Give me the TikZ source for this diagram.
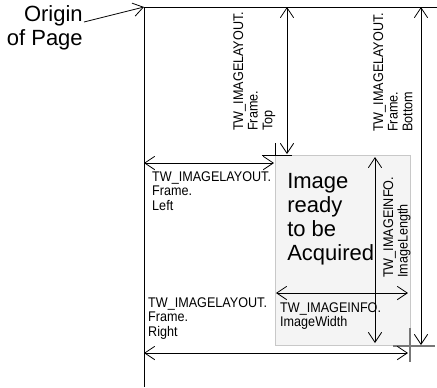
\documentclass[tikz,border=0pt]{standalone}
\usepackage{fontspec}
\setmainfont{Liberation Sans}
\usepackage{xcolor}
\usetikzlibrary{arrows.meta}

\definecolor{imgfill}{HTML}{F4F4F4}
\definecolor{imgedge}{HTML}{C8C8C8}
\definecolor{crossgray}{HTML}{777777}

\begin{document}
\begin{tikzpicture}[x=0.75pt, y=-0.75pt, >={Straight Barb[length=7.5pt,width=10pt]},
  dim/.style={<->, line width=0.6pt},
  lbl/.style={font=\fontsize{10.5}{11}\selectfont, align=left, inner sep=0pt, xscale=0.9},
  big/.style={font=\fontsize{16.5}{18}\selectfont, align=left, inner sep=0pt},
  rlbl/.style={font=\fontsize{10.5}{11}\selectfont, align=left, inner sep=0pt,
               rotate=90, xscale=0.9, anchor=north west}]
  \useasboundingbox (0,0) rectangle (437,387);
  % page edges and origin
  \coordinate (origin) at (144,7);
  \coordinate (pageR) at (437,7);
  \coordinate (pageB) at (144,387);
  \draw[line width=0.6pt] (pageR) -- (origin) -- (pageB);
  \node[big, align=right, anchor=north east] (orglbl) at (83,5) {Origin\\of Page};
  \coordinate (orgtail) at (84,22);
  \draw[->, line width=0.6pt] (orgtail) -- (origin);
  % image box
  \node[draw=imgedge, fill=imgfill, anchor=north west, inner sep=0pt,
        minimum width=101.25pt, minimum height=142.5pt] (img) at (275,155) {};
  \node[big, anchor=north west] (imgtxt) at (287,173) {Image\\ready\\to be\\Acquired};
  % frame corners
  \coordinate (ftl) at (275,155);
  \coordinate (fbr) at (410,346);
  \draw[line width=0.6pt] (262,155) -- (292,155);
  \draw[line width=0.6pt] (275,143) -- (ftl);
  \draw[crossgray, line width=1.2pt] (393,346) -- (435,346);
  \draw[crossgray, line width=1.2pt] (410,328) -- (410,362);
  % Frame.Top
  \coordinate (topA) at (287,7);
  \coordinate (topB) at (287,154);
  \draw[dim] (topA) -- (topB);
  \node[rlbl] (toplbl) at (233,131) {TW\_IMAGELAYOUT.\\Frame.\\Top};
  % Frame.Bottom
  \coordinate (botA) at (421,7);
  \coordinate (botB) at (421,345);
  \draw[dim] (botA) -- (botB);
  \node[rlbl] (botlbl) at (373,132) {TW\_IMAGELAYOUT.\\Frame.\\Bottom};
  % Frame.Left
  \coordinate (leftA) at (144,163);
  \coordinate (leftB) at (274,163);
  \draw[dim] (leftA) -- (leftB);
  \node[lbl, anchor=north west] (leftlbl) at (152,171) {TW\_IMAGELAYOUT.\\Frame.\\Left};
  % Frame.Right
  \coordinate (rightA) at (144,353);
  \coordinate (rightB) at (408,353);
  \draw[dim] (rightA) -- (rightB);
  \node[lbl, anchor=north west] (rightlbl) at (148,297) {TW\_IMAGELAYOUT.\\Frame.\\Right};
  % ImageWidth
  \coordinate (wA) at (276,293);
  \coordinate (wB) at (408,293);
  \draw[dim] (wA) -- (wB);
  \node[lbl, anchor=north west] (wlbl) at (280,302) {TW\_IMAGEINFO.\\ImageWidth};
  % ImageLength
  \coordinate (lA) at (375,157);
  \coordinate (lB) at (375,343);
  \draw[dim] (lA) -- (lB);
  \node[rlbl] (llbl) at (383,278) {TW\_IMAGEINFO.\\ImageLength};
\end{tikzpicture}
\end{document}
